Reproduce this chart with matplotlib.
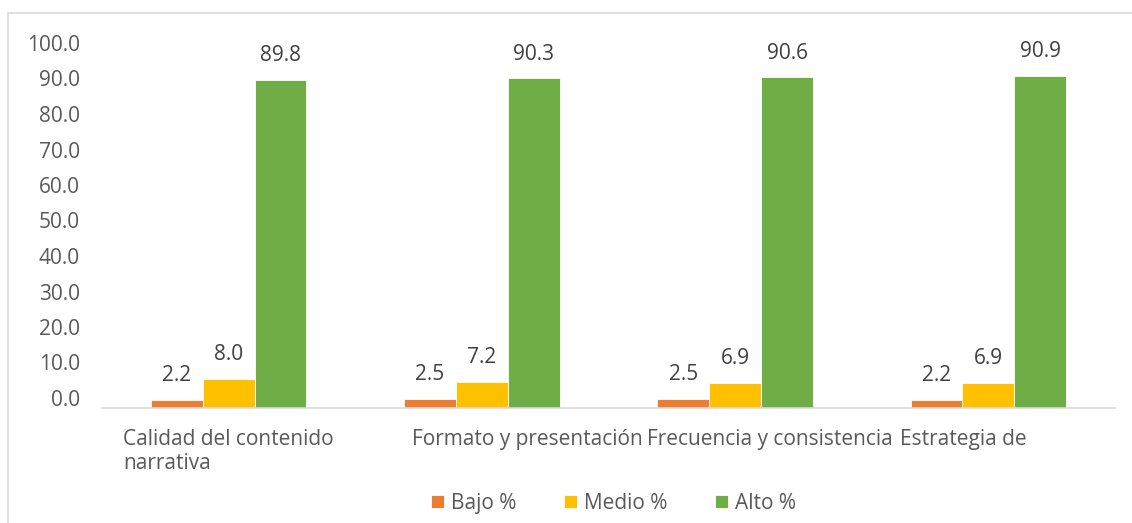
import matplotlib
matplotlib.use("Agg")
import matplotlib.pyplot as plt
from matplotlib.patches import Rectangle
from matplotlib.transforms import ScaledTranslation
import numpy as np

categories = ["Calidad del contenido\nnarrativa", "Formato y presentación",
              "Frecuencia y consistencia", "Estrategia de"]
series_names = ["Bajo %", "Medio %", "Alto %"]
bajo = [2.2, 2.5, 2.5, 2.2]
medio = [8.0, 7.2, 6.9, 6.9]
alto = [89.8, 90.3, 90.6, 90.9]
colors = ["#ED7D31", "#FFC000", "#70AD47"]
yticks = [0, 10, 20, 30, 40, 50, 60, 70, 80, 90, 100]

plt.rcParams["font.family"] = ["Open Sans", "DejaVu Sans"]
text_color = "#595959"
fs = 15

fig = plt.figure(figsize=(11.32, 5.23), dpi=100)
fig.patch.set_facecolor("white")
# chart border
fig.add_artist(Rectangle((8 / 1132, -0.1), 1.2, 1 - 13 / 523 + 0.1,
                         transform=fig.transFigure, fill=False,
                         edgecolor="#d9d9d9", linewidth=1.2))

ax = fig.add_axes([102 / 1132, 1 - 408 / 523, 1013 / 1132, 365 / 523])
x = np.arange(len(categories))
w = 0.205
for i, (vals, name, c) in enumerate(zip([bajo, medio, alto], series_names, colors)):
    pos = x + (i - 1) * w
    bars = ax.bar(pos, vals, width=w, color=c, edgecolor="white",
                  linewidth=0.6, label=name)
    for b, v in zip(bars, vals):
        ax.annotate(f"{v:.1f}", (b.get_x() + b.get_width() / 2, v),
                    xytext=(0, 17.5), textcoords="offset points",
                    ha="center", va="center", fontsize=fs, color="#404040")

ax.set_xlim(-0.5, 3.5)
ax.set_ylim(0, 100)
ax.set_yticks(yticks)
ax.set_yticklabels([f"{t:.1f}" for t in yticks], fontsize=fs, color=text_color)
ax.set_xticks(x)
ax.set_xticklabels(categories, fontsize=fs, color=text_color,
                   ha="left", multialignment="left")
ax.tick_params(axis="both", length=0)
ax.tick_params(axis="y", pad=16)
ax.tick_params(axis="x", pad=15)
for s in ["top", "right", "left"]:
    ax.spines[s].set_visible(False)
ax.spines["bottom"].set_color("#d9d9d9")
ax.spines["bottom"].set_linewidth(1.2)

# horizontal placement of the category labels (pixel shift from tick)
label_shift_px = [-105.6, -69.9, -88.1, -88.4]
for lab, dx in zip(ax.get_xticklabels(), label_shift_px):
    lab.set_transform(lab.get_transform() +
                      ScaledTranslation(dx / 100, 0, fig.dpi_scale_trans))
# value axis labels sit a little tighter than the bar scale
for lab, t in zip(ax.get_yticklabels(), yticks):
    dy = (100 - t) / 10.0
    lab.set_transform(lab.get_transform() +
                      ScaledTranslation(0, dy / 100, fig.dpi_scale_trans))

leg = fig.legend(loc="center", bbox_to_anchor=(0.542, 0.038), ncol=3,
                 frameon=False, fontsize=fs, handlelength=0.6,
                 handleheight=0.6, handletextpad=0.35, columnspacing=2.3)
for t in leg.get_texts():
    t.set_color(text_color)

fig.savefig("out.png", dpi=100)
